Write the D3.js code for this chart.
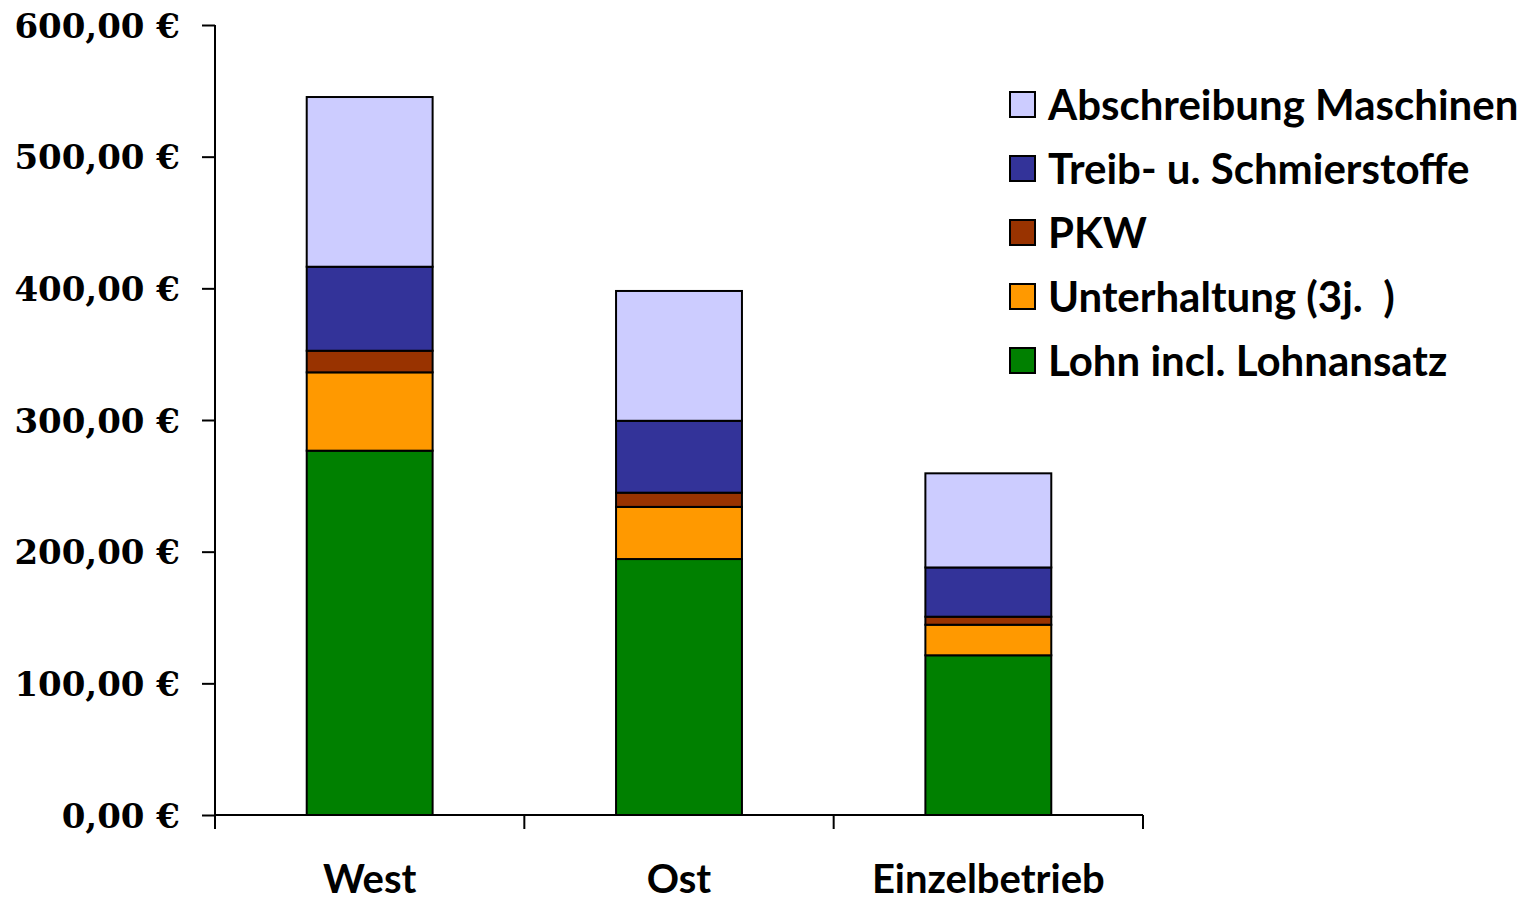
<!DOCTYPE html>
<html>
<head>
<meta charset="utf-8">
<script src="https://cdn.jsdelivr.net/npm/d3@7"></script>
<style>
  html, body { margin: 0; padding: 0; background: #ffffff; }
  svg { display: block; }
  .tick-label { font-family: "DejaVu Serif", serif; font-weight: bold; }
  .cat-label, .legend-label { font-family: Lato, "Noto Sans", sans-serif; font-weight: bold; }
</style>
</head>
<body>
<svg id="chart" width="1528" height="901"></svg>
<script>
// Cost components per location (€)
const categories = ["West", "Ost", "Einzelbetrieb"];
const seriesNames = [
  "Lohn incl. Lohnansatz",
  "Unterhaltung (3j.  )",
  "PKW",
  "Treib- u. Schmierstoffe",
  "Abschreibung Maschinen"
];
const lohn        = [276.7, 194.4, 121.3];
const unterhaltung = [59.5, 39.6, 23.2];
const pkw         = [16.4, 10.8, 6.1];
const treibstoffe = [63.8, 54.6, 37.4];
const abschreibung = [128.9, 98.6, 71.5];
const seriesColors = ["#008000", "#FF9900", "#993300", "#333399", "#CCCCFF"];
const yTicks = [0, 100, 200, 300, 400, 500, 600];

const seriesValues = [lohn, unterhaltung, pkw, treibstoffe, abschreibung];
const rows = categories.map((c, i) => {
  const r = { category: c };
  seriesNames.forEach((s, j) => { r[s] = seriesValues[j][i]; });
  return r;
});

const svg = d3.select("#chart");
const margin = { left: 215, right: 385, top: 25, bottom: 86 };
const width = 1528, height = 901;

const x = d3.scaleBand()
  .domain(categories)
  .range([margin.left, width - margin.right])
  .paddingInner(0.593)
  .paddingOuter(0.2965);

const y = d3.scaleLinear()
  .domain([0, 600])
  .range([height - margin.bottom, margin.top]);

const stack = d3.stack().keys(seriesNames);
const layers = stack(rows);

const color = d3.scaleOrdinal().domain(seriesNames).range(seriesColors);

// Stacked bars
svg.append("g")
  .selectAll("g")
  .data(layers)
  .join("g")
  .attr("fill", d => color(d.key))
  .selectAll("rect")
  .data(d => d)
  .join("rect")
  .attr("x", d => x(d.data.category))
  .attr("y", d => y(d[1]))
  .attr("width", x.bandwidth())
  .attr("height", d => y(d[0]) - y(d[1]))
  .attr("stroke", "#000")
  .attr("stroke-width", 2);

// Y axis
const yAxis = d3.axisLeft(y)
  .tickValues(yTicks)
  .tickSize(13)
  .tickPadding(22)
  .tickFormat(d => d3.format(".2f")(d).replace(".", ",") + " €");

const gy = svg.append("g")
  .attr("transform", `translate(${margin.left},0)`)
  .call(yAxis);
gy.select(".domain").remove();
gy.selectAll(".tick line").attr("stroke", "#000").attr("stroke-width", 2);
gy.selectAll(".tick text")
  .attr("class", "tick-label")
  .attr("fill", "#000")
  .attr("font-size", 34)
  .attr("dy", "0.36em");

svg.append("line")
  .attr("x1", margin.left).attr("x2", margin.left)
  .attr("y1", margin.top).attr("y2", y(0) + 14)
  .attr("stroke", "#000").attr("stroke-width", 2);

// X axis with tick marks at band boundaries
const boundaries = d3.range(categories.length + 1).map(i => margin.left + i * (width - margin.right - margin.left) / categories.length);
const gx = svg.append("g");
gx.append("line")
  .attr("x1", margin.left).attr("x2", width - margin.right)
  .attr("y1", y(0)).attr("y2", y(0))
  .attr("stroke", "#000").attr("stroke-width", 2);
gx.selectAll("line.tk")
  .data(boundaries)
  .join("line")
  .attr("class", "tk")
  .attr("x1", d => d).attr("x2", d => d)
  .attr("y1", y(0)).attr("y2", y(0) + 14)
  .attr("stroke", "#000").attr("stroke-width", 2);
gx.selectAll("text")
  .data(categories)
  .join("text")
  .attr("class", "cat-label")
  .attr("x", d => x(d) + x.bandwidth() / 2)
  .attr("y", y(0) + 78)
  .attr("text-anchor", "middle")
  .attr("font-size", 40)
  .attr("fill", "#000")
  .text(d => d);

// Legend (top entry is the top stack segment)
const legendItems = seriesNames.slice().reverse();
const legend = svg.append("g").attr("transform", "translate(1010,92)");
const li = legend.selectAll("g")
  .data(legendItems)
  .join("g")
  .attr("transform", (d, i) => `translate(0,${i * 64})`);
li.append("rect")
  .attr("width", 25).attr("height", 25)
  .attr("fill", d => color(d))
  .attr("stroke", "#000").attr("stroke-width", 2);
li.append("text")
  .attr("class", "legend-label")
  .attr("x", 38).attr("y", 12.5)
  .attr("dy", "0.36em")
  .attr("font-size", 42)
  .attr("fill", "#000")
  .attr("xml:space", "preserve")
  .style("white-space", "pre")
  .text(d => d);
</script>
</body>
</html>
